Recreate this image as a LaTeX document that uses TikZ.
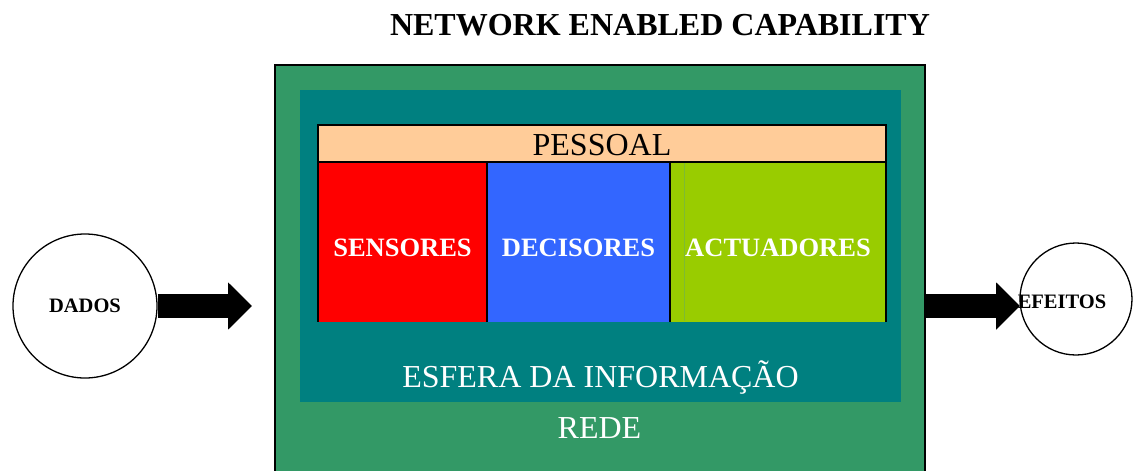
\documentclass[tikz,border=0pt]{standalone}
\usepackage{fontspec}
\setmainfont{Liberation Serif}
\usetikzlibrary{arrows.meta}
\definecolor{redegreen}{HTML}{339966}
\definecolor{esferateal}{HTML}{008080}
\definecolor{peach}{HTML}{FFCC99}
\definecolor{sensred}{HTML}{FF0000}
\definecolor{decblue}{HTML}{3366FF}
\definecolor{actgreen}{HTML}{99CC00}
\definecolor{actline}{HTML}{7DBB33}
\tikzset{
  area/.style={anchor=north west, inner sep=0pt, outer sep=0pt},
  bigtxt/.style={anchor=base, inner sep=0pt, font=\fontsize{32}{38}\selectfont, text=white},
  boxtxt/.style={anchor=base, inner sep=0pt, font=\fontsize{26.5}{32}\selectfont\bfseries, text=white},
  circtxt/.style={anchor=base, inner sep=0pt, font=\fontsize{20.5}{24}\selectfont\bfseries},
  endcircle/.style={circle, draw=black, line width=1.3pt, fill=white, inner sep=0pt},
  blockarrow/.style={line width=24pt, -{Triangle[length=24pt,width=46pt]}},
  sepline/.style={black, line width=2pt}
}
\begin{document}
\begin{tikzpicture}[x=1pt,y=-1pt]
\useasboundingbox (0,0) rectangle (1133,471);
\fill[white] (0,0) rectangle (1133,471);
% title
\node[anchor=base, inner sep=0pt, font=\fontsize{32}{38}\selectfont\bfseries] (title) at (660,35) {NETWORK ENABLED CAPABILITY};
% REDE
\node[area, fill=redegreen, draw=black, line width=1.3pt, minimum width=650pt, minimum height=420pt] (rede) at (275,65) {};
% ESFERA
\node[area, fill=esferateal, minimum width=601pt, minimum height=312pt] (esfera) at (300,90) {};
% PESSOAL
\node[area, fill=peach, draw=black, line width=2pt, minimum width=568pt, minimum height=37pt] (pessoal) at (318,125) {};
\node[anchor=base, inner sep=0pt, font=\fontsize{32}{38}\selectfont] (pessoaltxt) at (602,155) {PESSOAL};
% three boxes
\node[area, fill=sensred, minimum width=169pt, minimum height=159pt] (sensores) at (318,163) {};
\node[area, fill=decblue, minimum width=183pt, minimum height=159pt] (decisores) at (487,163) {};
\node[area, fill=actgreen, minimum width=216pt, minimum height=159pt] (actuadores) at (670,163) {};
\draw[actline, line width=0.8pt] (684,163) -- (684,321);
\draw[sepline] (sensores.north west) -- (sensores.south west);
\draw[sepline] (decisores.north west) -- (decisores.south west);
\draw[sepline] (actuadores.north west) -- (actuadores.south west);
\draw[sepline] (actuadores.north east) -- (actuadores.south east);
\node[boxtxt] (sensorestxt) at (402.5,256) {SENSORES};
\node[boxtxt] (decisorestxt) at (578.5,256) {DECISORES};
\node[boxtxt] (actuadorestxt) at (778,256) {ACTUADORES};
% labels
\node[bigtxt] (esferatxt) at (600.5,387) {ESFERA DA INFORMAÇÃO};
\node[bigtxt] (redetxt) at (599.5,438) {REDE};
% circles
\node[endcircle, minimum size=144pt] (dados) at (85,306) {};
\node[circtxt] (dadostxt) at (85,312) {DADOS};
\node[endcircle, minimum size=112pt] (efeitos) at (1076,299) {};
% arrows
\coordinate (intip) at (252,306);
\coordinate (outtip) at (1020,306);
\draw[blockarrow] (dados.east |- intip) -- (intip);
\draw[blockarrow] (rede.east |- outtip) -- (outtip);
\node[circtxt] (efeitostxt) at (1062,308) {EFEITOS};
\end{tikzpicture}
\end{document}
